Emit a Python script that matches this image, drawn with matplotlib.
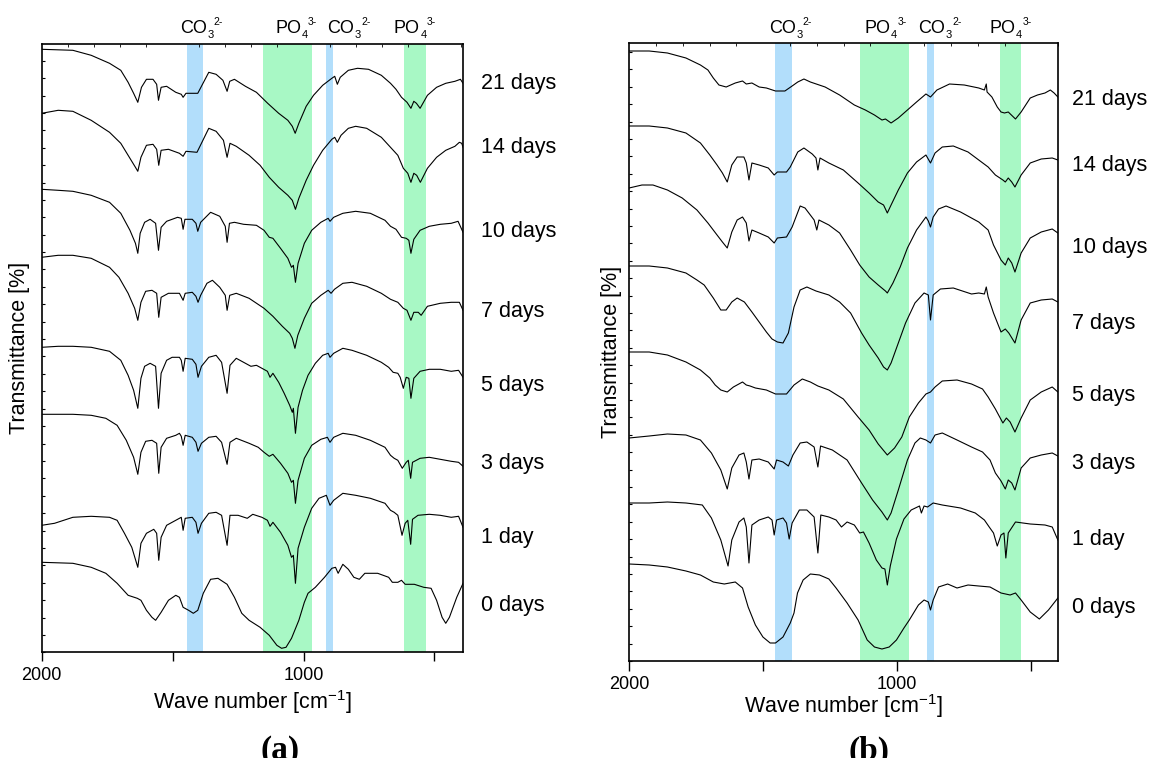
import matplotlib.pyplot as plt
from matplotlib.ticker import MultipleLocator
from matplotlib.transforms import offset_copy

plt.rcParams['font.family'] = ['Liberation Sans', 'DejaVu Sans']
plt.rcParams['mathtext.fontset'] = 'custom'
plt.rcParams['mathtext.rm'] = 'Liberation Sans'
plt.rcParams['mathtext.it'] = 'Liberation Sans:italic'
plt.rcParams['mathtext.bf'] = 'Liberation Sans:bold'

# FTIR spectra: (wave number cm-1, stacked transmittance a.u.)
a21 = [(2000,603),(1881,602),(1811,597),(1741,589),(1698,582),(1670,570),(1649,559),(1633,550),(1619,565),(1600,573),(1575,573),(1561,568),(1554,552),(1544,565),(1523,566),(1488,560),(1467,558),(1460,555),(1449,559),(1404,559),(1390,566),(1362,580),(1334,578),(1308,572),(1292,561),(1282,571),(1264,573),(1222,566),(1180,560),(1137,549),(1095,539),(1060,532),(1043,526),(1032,519),(1018,529),(990,546),(962,557),(927,567),(892,574),(881,576),(871,568),(860,575),(829,582),(794,584),(752,583),(703,577),(668,569),(647,563),(626,555),(605,550),(590,544),(579,551),(569,549),(555,544),(527,557),(492,565),(457,569),(422,571),(401,573),(391,569)]
a14 = [(2000,539),(1937,542),(1881,541),(1811,532),(1741,520),(1698,509),(1663,494),(1642,485),(1633,481),(1621,495),(1600,507),(1575,508),(1561,503),(1553,487),(1544,502),(1516,503),(1474,499),(1460,496),(1449,501),(1407,500),(1390,509),(1362,524),(1334,521),(1306,512),(1292,495),(1281,509),(1257,506),(1208,497),(1166,487),(1131,475),(1095,465),(1060,457),(1043,452),(1031,443),(1018,454),(990,472),(962,487),(927,502),(892,513),(881,515),(871,510),(857,517),(829,524),(801,526),(759,524),(703,515),(668,505),(640,497),(619,484),(602,479),(590,470),(579,479),(568,477),(554,470),(527,484),(492,495),(457,502),(422,506),(405,510),(396,509),(391,505)]
a10 = [(2000,463),(1937,462),(1881,461),(1811,457),(1741,450),(1698,439),(1663,422),(1642,409),(1633,399),(1624,419),(1607,430),(1586,433),(1565,429),(1554,402),(1544,425),(1523,431),(1481,435),(1467,434),(1460,423),(1453,433),(1425,433),(1411,429),(1404,421),(1393,430),(1355,440),(1320,436),(1299,426),(1292,410),(1283,429),(1264,430),(1229,428),(1180,427),(1151,422),(1131,415),(1117,414),(1088,404),(1060,394),(1046,385),(1039,387),(1031,370),(1021,389),(997,409),(969,422),(934,430),(906,434),(899,431),(885,435),(850,439),(801,441),(745,439),(689,432),(668,426),(647,423),(626,415),(608,414),(598,412),(590,399),(579,413),(555,422),(520,426),(478,428),(436,429),(410,431),(391,420)]
a7 = [(2000,395),(1937,397),(1881,397),(1811,394),(1741,385),(1705,375),(1670,359),(1645,344),(1633,332),(1621,350),(1603,361),(1579,362),(1561,359),(1553,335),(1544,355),(1516,359),(1474,359),(1460,352),(1452,359),(1425,360),(1411,356),(1403,350),(1393,357),(1369,369),(1348,372),(1320,365),(1299,357),(1292,342),(1282,357),(1257,359),(1208,354),(1151,344),(1117,336),(1081,326),(1053,319),(1043,314),(1033,304),(1022,317),(997,334),(969,349),(934,357),(906,362),(895,359),(882,363),(850,369),(815,370),(759,366),(703,359),(668,353),(640,350),(619,344),(605,342),(590,332),(579,340),(562,340),(551,337),(527,346),(478,349),(436,350),(405,350),(391,342)]
a5 = [(2000,305),(1937,306),(1881,306),(1811,305),(1741,301),(1698,292),(1670,277),(1649,262),(1633,244),(1621,274),(1607,286),(1586,289),(1565,286),(1554,244),(1544,279),(1523,292),(1502,295),(1474,295),(1467,292),(1460,281),(1452,294),(1425,293),(1411,288),(1403,275),(1390,286),(1362,295),(1334,297),(1313,290),(1292,259),(1281,287),(1257,294),(1229,290),(1201,286),(1180,287),(1159,284),(1138,281),(1128,275),(1117,279),(1095,270),(1074,259),(1053,247),(1043,240),(1039,244),(1031,219),(1021,245),(1004,262),(983,277),(955,289),(927,297),(906,299),(899,295),(885,299),(850,304),(815,302),(759,297),(703,290),(675,285),(658,280),(640,279),(631,275),(619,264),(608,275),(598,274),(590,254),(579,274),(555,281),(520,283),(478,283),(436,281),(408,282),(391,275)]
a3 = [(2000,238),(1937,238),(1881,238),(1811,237),(1755,234),(1712,227),(1677,212),(1649,195),(1633,178),(1621,200),(1603,211),(1579,212),(1561,209),(1553,179),(1544,205),(1523,214),(1488,217),(1474,219),(1467,216),(1460,207),(1452,217),(1425,215),(1411,210),(1403,201),(1390,209),(1362,215),(1334,216),(1313,210),(1292,188),(1281,210),(1257,214),(1208,209),(1173,205),(1151,200),(1131,196),(1117,198),(1088,189),(1060,179),(1046,170),(1039,172),(1031,149),(1021,172),(997,194),(969,207),(934,213),(909,215),(899,210),(885,215),(850,219),(801,217),(745,212),(689,205),(668,197),(654,194),(640,192),(623,184),(608,190),(600,192),(591,174),(584,190),(555,194),(520,195),(478,193),(436,191),(408,190),(391,186)]
a1 = [(2000,127),(1951,129),(1881,135),(1811,136),(1741,135),(1712,132),(1684,119),(1656,105),(1633,85),(1621,109),(1600,119),(1572,123),(1561,119),(1553,92),(1544,115),(1523,127),(1488,132),(1467,135),(1460,122),(1452,134),(1425,135),(1411,130),(1403,119),(1390,129),(1362,139),(1334,140),(1313,137),(1292,107),(1281,137),(1250,137),(1215,134),(1194,138),(1159,135),(1138,132),(1128,126),(1117,130),(1088,120),(1060,107),(1046,95),(1039,97),(1031,69),(1021,104),(997,125),(969,144),(941,154),(913,157),(899,147),(885,152),(850,159),(801,157),(745,154),(689,149),(668,142),(654,140),(640,137),(624,117),(612,129),(602,132),(591,108),(584,133),(563,137),(520,138),(478,137),(436,135),(408,136),(391,125)]
a0 = [(2000,90),(1881,89),(1811,85),(1755,79),(1712,69),(1670,57),(1635,54),(1621,52),(1600,42),(1579,35),(1565,32),(1544,40),(1516,52),(1488,57),(1474,55),(1460,45),(1439,42),(1421,39),(1404,42),(1383,59),(1355,73),(1327,74),(1292,68),(1264,55),(1236,39),(1208,32),(1166,25),(1131,17),(1102,7),(1084,4),(1067,5),(1046,14),(1018,32),(997,50),(983,59),(955,65),(920,75),(892,84),(878,85),(868,79),(850,88),(829,83),(808,75),(787,73),(766,79),(717,79),(675,75),(661,70),(640,70),(626,72),(612,68),(577,68),(541,65),(513,64),(492,52),(471,35),(457,29),(443,35),(415,55),(391,69)]

b21 = [(2000,610),(1925,610),(1857,608),(1788,603),(1734,596),(1706,591),(1686,583),(1665,576),(1638,574),(1604,578),(1577,580),(1563,577),(1542,578),(1515,574),(1488,573),(1454,570),(1419,570),(1392,575),(1371,579),(1348,582),(1324,579),(1269,574),(1215,566),(1160,556),(1119,551),(1085,546),(1057,541),(1044,542),(1023,538),(996,543),(962,551),(928,559),(893,567),(876,564),(852,571),(805,577),(750,576),(696,573),(675,571),(668,577),(665,569),(647,564),(627,554),(613,549),(600,548),(586,549),(559,542),(538,549),(504,563),(477,566),(449,568),(429,571),(415,568),(401,564)]
b14 = [(2000,535),(1925,535),(1857,533),(1788,528),(1734,518),(1699,506),(1672,496),(1652,488),(1634,479),(1617,496),(1597,504),(1572,504),(1563,498),(1553,481),(1542,498),(1515,496),(1481,493),(1459,486),(1447,489),(1413,489),(1399,494),(1371,509),(1348,513),(1317,507),(1303,503),(1296,491),(1288,503),(1255,498),(1201,491),(1146,478),(1105,468),(1071,459),(1051,456),(1037,448),(1023,456),(996,471),(962,488),(928,499),(893,506),(876,498),(859,508),(832,514),(791,515),(736,509),(696,501),(661,494),(634,486),(606,481),(597,479),(586,483),(573,479),(561,474),(538,486),(504,498),(463,502),(422,503),(401,501)]
b10 = [(2000,473),(1952,476),(1911,476),(1857,471),(1802,463),(1747,451),(1706,438),(1672,426),(1652,419),(1634,413),(1617,429),(1597,441),(1577,444),(1563,438),(1553,420),(1542,431),(1515,428),(1481,424),(1459,418),(1447,423),(1413,424),(1392,434),(1362,455),(1344,453),(1310,441),(1300,431),(1292,441),(1255,436),(1215,428),(1174,411),(1140,396),(1105,384),(1071,376),(1044,370),(1037,368),(1016,378),(989,394),(962,413),(928,431),(893,444),(884,440),(876,434),(866,444),(846,452),(818,455),(764,449),(696,439),(661,431),(641,416),(613,401),(597,396),(586,403),(573,398),(561,389),(538,408),(504,423),(463,429),(422,432),(401,428)]
b7 = [(2000,395),(1925,395),(1857,393),(1788,388),(1747,381),(1720,376),(1686,363),(1658,351),(1638,351),(1617,359),(1597,363),(1570,359),(1542,349),(1515,339),(1488,329),(1467,322),(1447,319),(1426,318),(1406,328),(1385,354),(1362,371),(1337,374),(1303,370),(1255,366),(1215,359),(1174,348),(1133,328),(1105,316),(1071,303),(1051,294),(1037,291),(1023,298),(996,318),(969,338),(934,358),(900,368),(884,366),(876,341),(866,366),(839,372),(791,373),(723,367),(696,368),(675,367),(668,374),(661,364),(641,348),(613,329),(597,332),(584,328),(561,318),(538,341),(504,358),(463,361),(422,362),(401,359)]
b5 = [(2000,309),(1925,309),(1857,306),(1788,299),(1734,291),(1699,283),(1679,276),(1658,271),(1634,269),(1611,274),(1577,279),(1563,276),(1549,275),(1529,273),(1488,271),(1454,267),(1413,267),(1385,276),(1354,282),(1324,279),(1296,275),(1255,271),(1201,262),(1146,244),(1105,231),(1071,217),(1037,206),(1010,213),(983,224),(955,244),(921,258),(893,267),(876,269),(859,274),(832,280),(777,281),(723,277),(682,272),(661,264),(634,252),(606,238),(593,243),(579,239),(561,229),(538,243),(504,261),(463,269),(422,274),(401,269)]
b3 = [(2000,223),(1925,225),(1857,227),(1788,226),(1734,221),(1693,208),(1658,191),(1634,172),(1617,193),(1590,206),(1572,208),(1563,199),(1553,182),(1542,201),(1515,202),(1481,199),(1459,192),(1450,201),(1426,199),(1406,195),(1389,206),(1362,218),(1337,219),(1310,214),(1296,194),(1286,215),(1242,211),(1187,201),(1133,178),(1092,161),(1057,149),(1037,141),(1023,148),(996,171),(962,201),(934,218),(914,223),(893,221),(876,218),(859,226),(832,228),(777,221),(723,214),(682,209),(654,201),(634,188),(613,180),(597,172),(586,181),(573,178),(561,171),(538,193),(504,203),(463,206),(422,208),(401,205)]
b1 = [(2000,158),(1925,158),(1857,159),(1788,158),(1727,156),(1693,143),(1658,121),(1631,95),(1617,121),(1590,139),(1572,143),(1563,134),(1553,98),(1542,136),(1515,141),(1481,144),(1467,141),(1459,126),(1450,141),(1426,143),(1413,138),(1403,122),(1392,138),(1365,151),(1337,151),(1310,144),(1296,108),(1285,146),(1255,144),(1228,141),(1208,134),(1187,139),(1160,136),(1140,128),(1126,129),(1105,118),(1078,101),(1057,93),(1046,92),(1037,76),(1026,95),(1003,122),(975,142),(948,151),(917,155),(910,148),(900,155),(887,154),(866,158),(832,156),(764,153),(709,148),(675,141),(657,134),(641,128),(627,115),(613,126),(602,128),(595,103),(586,128),(559,139),(504,137),(449,136),(422,134),(401,121)]
b0 = [(2000,97),(1925,96),(1857,94),(1788,90),(1734,86),(1686,79),(1645,77),(1604,79),(1577,73),(1556,54),(1529,36),(1501,24),(1474,18),(1454,18),(1426,24),(1399,38),(1385,48),(1372,68),(1351,81),(1324,87),(1290,86),(1255,82),(1228,73),(1187,58),(1146,41),(1112,21),(1085,14),(1057,12),(1030,14),(1003,21),(975,33),(955,41),(921,56),(900,61),(884,59),(876,51),(866,61),(846,74),(812,77),(777,73),(736,76),(696,75),(654,74),(613,68),(579,66),(559,68),(538,61),(504,49),(470,42),(436,51),(401,63)]

days = ['0 days', '1 day', '3 days', '5 days', '7 days', '10 days', '14 days', '21 days']

# absorption bands (cm-1): CO3, PO4, CO3, PO4
ion_base = ['CO', 'PO', 'CO', 'PO']
ion_sub = ['3', '4', '3', '4']
ion_sup = ['2-', '3-', '2-', '3-']
band_kind = ['co3', 'po4', 'co3', 'po4']
a_bands = [(1446, 1383), (1153, 968), (916, 886), (616, 534)]
b_bands = [(1455, 1391), (1138, 955), (889, 862), (617, 539)]
a_ion_x = [1472, 1109, 909, 655]
b_ion_x = [1478, 1123, 921, 655]

band_col = {'co3': '#b2defb', 'po4': '#a8f8c5'}

W, H = 1152, 758


def fx(x):
    return x / W


def fy(y):
    return 1 - y / H


fig = plt.figure(figsize=(11.52, 7.58), dpi=100)
rend = fig.canvas.get_renderer()


def ion_label(ax, x, y, base, sub, sup):
    tr = ax.get_xaxis_transform()
    t = ax.text(x, y, base, transform=tr, ha='left', va='baseline', fontsize=13)
    w = t.get_window_extent(rend).width * 72 / fig.dpi
    ax.text(x, y, sub, transform=offset_copy(tr, fig=fig, x=w + 0.3, y=-3.6, units='points'),
            ha='left', va='baseline', fontsize=8)
    ax.text(x, y, sup, transform=offset_copy(tr, fig=fig, x=w + 5.0, y=5.8, units='points'),
            ha='left', va='baseline', fontsize=7.5)


def panel(left, right, top, bottom, spectra, xmin, ytop, bands, ion_x, ion_y,
          day_x, day_y, ylab_x, xlab_y, tag, tag_x, tick_len):
    ax = fig.add_axes([fx(left), fy(bottom), fx(right - left), (bottom - top) / H])
    for (lo, hi), kind in zip(bands, band_kind):
        ax.axvspan(lo, hi, color=band_col[kind], lw=0, zorder=0)
    for spec in spectra:
        wn = [p[0] for p in spec]
        t = [p[1] for p in spec]
        ax.plot(wn, t, color='black', lw=0.8, zorder=2)
    ax.set_xlim(2000, xmin)
    ax.set_ylim(0, ytop)
    ax.set_xticks([2000, 1500, 1000, 500])
    ax.set_xticklabels(['2000', '', '1000', ''])
    ax.tick_params(axis='x', which='major', direction='out', length=tick_len, width=1,
                   labelsize=13, pad=4)
    ax.xaxis.set_minor_locator(MultipleLocator(100))
    ax.tick_params(axis='x', which='minor', top=True, bottom=False, direction='in', length=2.5)
    ax.yaxis.set_major_locator(MultipleLocator(17.4))
    ax.tick_params(axis='y', which='major', direction='in', length=2.5, width=0.8,
                   labelleft=False)
    for s in ax.spines.values():
        s.set_linewidth(1.2)
    for x, b, sb, sp in zip(ion_x, ion_base, ion_sub, ion_sup):
        ion_label(ax, x, ion_y, b, sb, sp)
    for d, y in zip(days, day_y):
        fig.text(fx(day_x), fy(y), d, ha='left', va='center', fontsize=15.5)
    fig.text(fx(ylab_x), fy((top + bottom) / 2), 'Transmittance [%]', rotation=90,
             ha='center', va='center', fontsize=15.5)
    fig.text(fx((left + right) / 2), fy(xlab_y), 'Wave number [cm$^{-1}$]',
             ha='center', va='center', fontsize=15.5)
    fig.text(fx(tag_x), fy(751), tag, ha='center', va='center', fontsize=24,
             family='Liberation Serif', fontweight='bold')
    return ax


panel(41.7, 463.3, 44, 652.3, [a0, a1, a3, a5, a7, a10, a14, a21], 390, 608.3,
      a_bands, a_ion_x, 1.018, 480.7, [606, 538, 463, 386, 311, 232, 148, 83],
      20, 702, '(a)', 280, 6.3)
panel(629.1, 1058.4, 42.7, 661, [b0, b1, b3, b5, b7, b10, b14, b21], 399, 618.3,
      b_bands, b_ion_x, 1.015, 1072, [608, 540, 464, 395, 323, 247, 166, 100],
      611, 706, '(b)', 869, 7.0)

fig.savefig('out.png', dpi=100)
